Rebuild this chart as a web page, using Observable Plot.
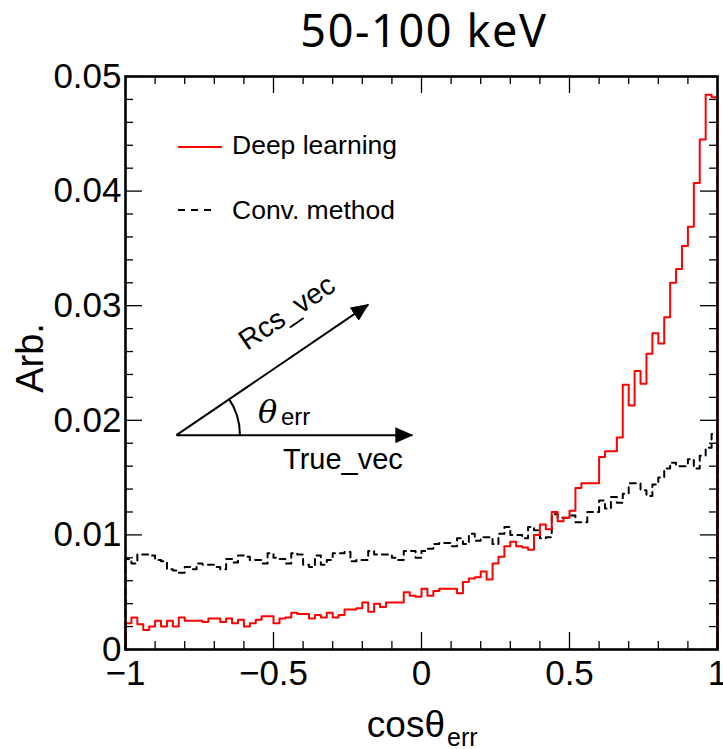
<!DOCTYPE html>
<html><head><meta charset="utf-8">
<script src="https://cdn.jsdelivr.net/npm/d3@7"></script>
<script src="https://cdn.jsdelivr.net/npm/@observablehq/plot@0.6"></script>
<style>body{margin:0;background:#fff} svg{display:block}</style>
</head><body><div id="chart"></div>
<script>
// ---- data ----
const binLow = -1;
const binWidth = 0.02;
const deepLearning = [
0.0023,0.0028,0.0022,0.0017,0.0020,0.0025,0.0020,0.0025,0.0020,0.0028,
0.0025,0.0025,0.0025,0.0024,0.0027,0.0027,0.0024,0.0027,0.0023,0.0026,
0.0020,0.0023,0.0026,0.0029,0.0029,0.0023,0.0027,0.0028,0.0032,0.0031,
0.0031,0.0027,0.0030,0.0028,0.0032,0.0028,0.0030,0.0035,0.0035,0.0036,
0.0041,0.0033,0.0040,0.0037,0.0041,0.0041,0.0041,0.0050,0.0047,0.0046,
0.0053,0.0047,0.0051,0.0053,0.0053,0.0053,0.0049,0.0059,0.0062,0.0063,
0.0068,0.0061,0.0075,0.0081,0.0090,0.0094,0.0090,0.0089,0.0087,0.0100,
0.0109,0.0105,0.0120,0.0112,0.0115,0.0121,0.0141,0.0145,0.0145,0.0145,
0.0168,0.0173,0.0173,0.0185,0.0231,0.0213,0.0243,0.0232,0.0258,0.0276,
0.0267,0.0290,0.0320,0.0332,0.0352,0.0369,0.0407,0.0445,0.0484,0.0482];
const convMethod = [
0.0079,0.0075,0.0083,0.0083,0.0082,0.0078,0.0077,0.0070,0.0069,0.0067,
0.0072,0.0070,0.0075,0.0074,0.0074,0.0072,0.0070,0.0079,0.0076,0.0082,
0.0081,0.0078,0.0078,0.0075,0.0084,0.0080,0.0079,0.0075,0.0084,0.0083,
0.0074,0.0072,0.0082,0.0074,0.0078,0.0084,0.0084,0.0085,0.0077,0.0078,
0.0078,0.0086,0.0083,0.0083,0.0083,0.0080,0.0078,0.0086,0.0086,0.0080,
0.0086,0.0088,0.0092,0.0093,0.0093,0.0090,0.0097,0.0092,0.0101,0.0095,
0.0098,0.0098,0.0092,0.0101,0.0107,0.0100,0.0100,0.0097,0.0107,0.0104,
0.0097,0.0098,0.0118,0.0115,0.0115,0.0117,0.0111,0.0111,0.0120,0.0120,
0.0130,0.0123,0.0133,0.0128,0.0136,0.0145,0.0145,0.0139,0.0134,0.0144,
0.0150,0.0158,0.0163,0.0160,0.0160,0.0166,0.0158,0.0169,0.0176,0.0188];
const xTicks = [-1, -0.5, 0, 0.5, 1];
const xTickLabels = ["\u22121", "\u22120.5", "0", "0.5", "1"];
const xMinorTicks = [-0.9,-0.8,-0.7,-0.6,-0.4,-0.3,-0.2,-0.1,0.1,0.2,0.3,0.4,0.6,0.7,0.8,0.9];
const yTicks = [0, 0.01, 0.02, 0.03, 0.04, 0.05];
const yTickLabels = ["0", "0.01", "0.02", "0.03", "0.04", "0.05"];
const yMinorTicks = [0.002,0.004,0.006,0.008,0.012,0.014,0.016,0.018,0.022,0.024,0.026,0.028,
                     0.032,0.034,0.036,0.038,0.042,0.044,0.046,0.048];
const seriesNames = ["Deep learning", "Conv. method"];
const titleText = "50-100 keV";
// diagram (data coordinates)
const diagramOrigin = [-0.828, 0.0187];
const trueVecTip = [-0.031, 0.0187];
const rcsVecTip = [-0.180, 0.0301];

// ---- histogram outline ----
function steps(vals) {
  const pts = [{x: binLow, y: 0}];
  vals.forEach((v, i) => pts.push({x: binLow + i * binWidth, y: v}));
  const end = binLow + vals.length * binWidth;
  pts.push({x: end, y: vals[vals.length - 1]});
  pts.push({x: end, y: 0});
  return pts;
}

const W = 723, H = 749;
const mL = 125, mR = 6, mT = 76, mB = 100;
const fw = W - mL - mR, fh = H - mT - mB;
const majorLen = 17, minorLen = 8;
const tickStyle = {stroke: "#000", strokeWidth: 1.3};

const arrows = [
  {x1: diagramOrigin[0], y1: diagramOrigin[1], x2: trueVecTip[0], y2: trueVecTip[1]},
  {x1: diagramOrigin[0], y1: diagramOrigin[1], x2: rcsVecTip[0], y2: rcsVecTip[1]}
];

const plot = Plot.plot({
  width: W, height: H,
  marginLeft: mL, marginRight: mR, marginTop: mT, marginBottom: mB,
  style: {fontFamily: "'Liberation Sans', Arial, sans-serif", fontSize: "35px", background: "#fff", overflow: "visible"},
  x: {domain: [-1, 1]},
  y: {domain: [0, 0.05]},
  marks: [
    Plot.line(steps(convMethod), {x: "x", y: "y", curve: "step-after", stroke: "#000", strokeWidth: 2, strokeDasharray: "6 5"}),
    Plot.line(steps(deepLearning), {x: "x", y: "y", curve: "step-after", stroke: "#ff0000", strokeWidth: 2}),
    // ticks (inside, all four sides)
    Plot.ruleX(xTicks, {...tickStyle, insetTop: fh - majorLen}),
    Plot.ruleX(xMinorTicks, {...tickStyle, insetTop: fh - minorLen}),
    Plot.ruleX(xTicks, {...tickStyle, insetBottom: fh - majorLen}),
    Plot.ruleX(xMinorTicks, {...tickStyle, insetBottom: fh - minorLen}),
    Plot.ruleY(yTicks, {...tickStyle, insetRight: fw - majorLen}),
    Plot.ruleY(yMinorTicks, {...tickStyle, insetRight: fw - minorLen}),
    Plot.ruleY(yTicks, {...tickStyle, insetLeft: fw - majorLen}),
    Plot.ruleY(yMinorTicks, {...tickStyle, insetLeft: fw - minorLen}),
    Plot.axisX({ticks: xTicks, tickFormat: d => xTickLabels[xTicks.indexOf(d)], tickSize: 0, tickPadding: 11, fontSize: 35, label: null}),
    Plot.axisY({ticks: yTicks, tickFormat: d => yTickLabels[yTicks.indexOf(d)], tickSize: 0, tickPadding: 4, fontSize: 35, label: null}),
    Plot.frame({stroke: "#000", strokeWidth: 2.6}),
    Plot.link(arrows, {x1: "x1", y1: "y1", x2: "x2", y2: "y2", stroke: "#000", strokeWidth: 2})
  ]
});

const svg = d3.select(plot);
const sx = plot.scale("x"), sy = plot.scale("y");

// filled arrowheads
const defs = svg.append("defs");
defs.append("marker").attr("id", "tri").attr("viewBox", "0 -8 18 16")
  .attr("refX", 17).attr("refY", 0).attr("markerWidth", 18).attr("markerHeight", 16)
  .attr("markerUnits", "userSpaceOnUse").attr("orient", "auto")
  .append("path").attr("d", "M0,-8L18,0L0,8Z").attr("fill", "#000");
svg.selectAll("g[aria-label='link'] path").attr("marker-end", "url(#tri)");

const ox = sx.apply(diagramOrigin[0]), oy = sy.apply(diagramOrigin[1]);
const ang = Math.atan2(oy - sy.apply(rcsVecTip[1]), sx.apply(rcsVecTip[0]) - ox);
const r = 64;
svg.append("path")
  .attr("d", `M${ox + r},${oy} A${r},${r} 0 0 0 ${ox + r * Math.cos(ang)},${oy - r * Math.sin(ang)}`)
  .attr("fill", "none").attr("stroke", "#000").attr("stroke-width", 2);

const font = "'Liberation Sans', Arial, sans-serif";
function txt(x, y, s, size, opts = {}) {
  const t = svg.append("text").attr("x", x).attr("y", y).text(s)
    .attr("font-family", opts.family || font).attr("font-size", size).attr("fill", "#000")
    .attr("text-anchor", opts.anchor || "start");
  if (opts.style) t.attr("font-style", opts.style);
  if (opts.rotate != null) t.attr("transform", `rotate(${opts.rotate},${x},${y})`);
  return t;
}
// diagram labels
txt(247, 351, "Rcs_vec", 28.5, {rotate: -ang * 180 / Math.PI});
txt(283, 469, "True_vec", 29);
txt(258, 423, "\u03b8", 32, {family: "'DejaVu Serif', serif", style: "italic"});
txt(281, 425, "err", 24);

// legend
svg.append("line").attr("x1", 178).attr("x2", 222).attr("y1", 147).attr("y2", 147)
  .attr("stroke", "#ff0000").attr("stroke-width", 2);
txt(232, 154, seriesNames[0], 26.5);
svg.append("line").attr("x1", 178).attr("x2", 217).attr("y1", 210).attr("y2", 210)
  .attr("stroke", "#000").attr("stroke-width", 2).attr("stroke-dasharray", "7 6");
txt(232, 219, seriesNames[1], 26.5);

// titles
txt(424, 47, titleText, 45, {anchor: "middle", family: "'Noto Sans', sans-serif"}).attr("letter-spacing", 1.6);
txt(43, 358, "Arb.", 38, {anchor: "middle", rotate: -90});
txt(445, 737, "cos\u03b8", 37, {anchor: "end"});
txt(447, 746, "err", 25);

document.getElementById("chart").appendChild(plot);
</script>
</body></html>
